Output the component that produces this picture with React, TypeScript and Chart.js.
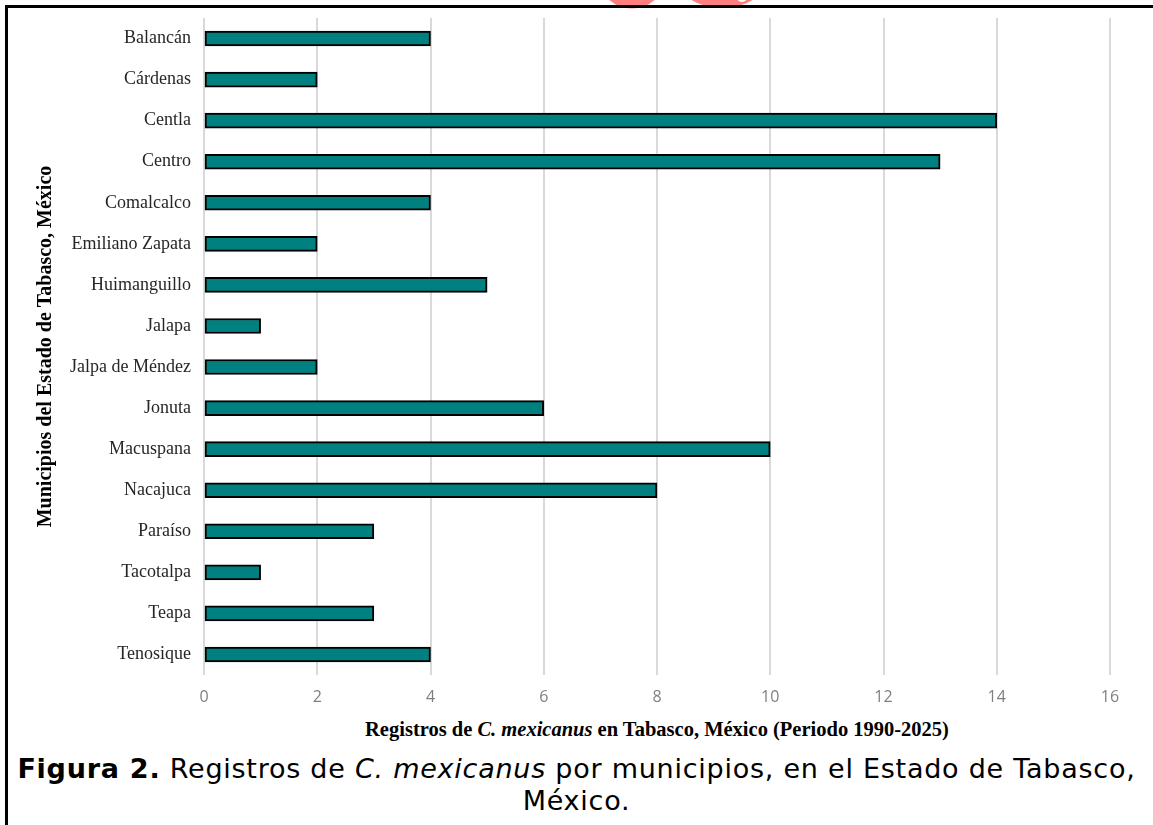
import React, { useEffect, useRef } from "react";
import { Chart, registerables } from "chart.js";

Chart.register(...registerables);

const municipios = [
  "Balancán",
  "Cárdenas",
  "Centla",
  "Centro",
  "Comalcalco",
  "Emiliano Zapata",
  "Huimanguillo",
  "Jalapa",
  "Jalpa de Méndez",
  "Jonuta",
  "Macuspana",
  "Nacajuca",
  "Paraíso",
  "Tacotalpa",
  "Teapa",
  "Tenosique",
];

const registros = [4, 2, 14, 13, 4, 2, 5, 1, 2, 6, 10, 8, 3, 1, 3, 4];

const xMin = 0;
const xMax = 16;
const xStep = 2;

const yTitle = "Municipios del Estado de Tabasco, México";

const CANVAS_H = 715;

export default function App() {
  const ref = useRef<HTMLCanvasElement | null>(null);

  useEffect(() => {
    if (!ref.current) return;
    const chart = new Chart(ref.current, {
      type: "bar",
      data: {
        labels: municipios,
        datasets: [
          {
            data: registros,
            backgroundColor: "#008080",
            borderColor: "#000000",
            borderWidth: 2,
            borderSkipped: false,
            barThickness: 15,
          },
        ],
      },
      options: {
        indexAxis: "y",
        responsive: false,
        animation: false,
        layout: { padding: { left: 0, top: 18, right: 43, bottom: 0 } },
        plugins: { legend: { display: false }, tooltip: { enabled: false } },
        scales: {
          x: {
            min: xMin,
            max: xMax,
            afterFit: (s: any) => {
              s.height = CANVAS_H - 675;
            },
            ticks: {
              stepSize: xStep,
              color: "#7f7f7f",
              padding: 13,
              font: { family: "'Open Sans', sans-serif", size: 16 },
            },
            grid: { color: "#d9d9d9", lineWidth: 2, drawTicks: false },
            border: { display: false },
          },
          y: {
            afterFit: (s: any) => {
              s.width = 204;
            },
            ticks: {
              color: "#262626",
              padding: 5,
              font: { family: "'Liberation Serif', serif", size: 18 },
            },
            grid: { display: false },
            border: { display: false },
            title: {
              display: true,
              text: yTitle,
              color: "#000000",
              padding: { top: 34, bottom: 0 },
              font: { family: "'Liberation Serif', serif", size: 20, weight: "bold" },
            },
          },
        },
      },
    });
    return () => chart.destroy();
  }, []);

  return (
    <div
      style={{
        position: "fixed",
        left: 0,
        top: 0,
        width: 1153,
        height: 825,
        background: "#fff",
        overflow: "hidden",
      }}
    >
      <svg
        width={1153}
        height={20}
        style={{ position: "absolute", left: 0, top: 0 }}
      >
        <circle cx={632} cy={-26} r={30} fill="none" stroke="#ff7f7f" strokeWidth={9} />
        <ellipse cx={722} cy={-22} rx={45} ry={30} fill="#ff7f7f" />
        <ellipse cx={742} cy={-18} rx={10} ry={20} fill="#fff" />
      </svg>
      <div
        style={{
          position: "absolute",
          left: 5,
          top: 5,
          width: 1200,
          height: 900,
          borderLeft: "3px solid #000",
          borderTop: "3px solid #000",
        }}
      />
      <canvas
        ref={ref}
        width={1153}
        height={CANVAS_H}
        style={{ position: "absolute", left: 0, top: 0, width: 1153, height: CANVAS_H }}
      />
      <div
        style={{
          position: "absolute",
          left: 204,
          width: 906,
          top: 716,
          textAlign: "center",
          fontFamily: "'Liberation Serif', serif",
          fontWeight: "bold",
          fontSize: 20.5,
          color: "#000",
          lineHeight: "26px",
          whiteSpace: "nowrap",
        }}
      >
        Registros de <i>C. mexicanus</i> en Tabasco, México (Periodo 1990-2025)
      </div>
      <div
        style={{
          position: "absolute",
          left: 0,
          width: 1153,
          top: 753,
          textAlign: "center",
          fontFamily: "'DejaVu Sans', sans-serif",
          fontSize: 27,
          letterSpacing: "0.75px",
          color: "#000",
          lineHeight: "32px",
          whiteSpace: "nowrap",
        }}
      >
        <b>Figura 2.</b> Registros de <i>C. mexicanus</i> por municipios, en el Estado de Tabasco,
        <br />
        México.
      </div>
    </div>
  );
}
